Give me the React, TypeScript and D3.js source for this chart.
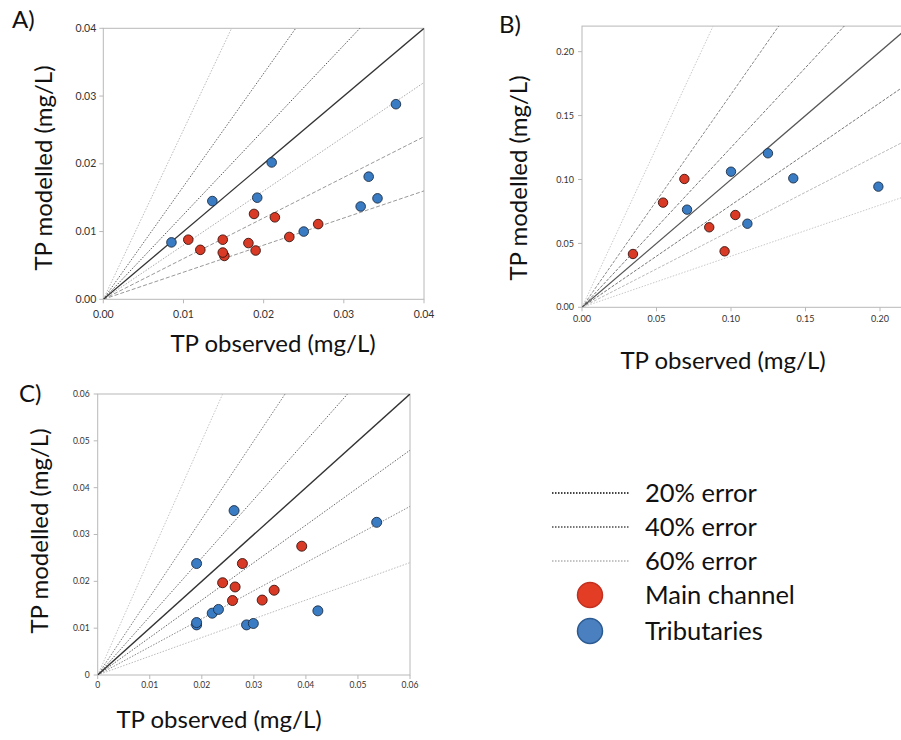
import React from "react";
import * as d3 from "d3";

// ---------- DATA ----------
// [TP observed, TP modelled] in mg/L
const aMainChannel: [number, number][] = [
  [0.0106, 0.0088], [0.0121, 0.0073], [0.0149, 0.0088], [0.0151, 0.0064],
  [0.0149, 0.0069], [0.0181, 0.0083], [0.019, 0.0072], [0.0188, 0.0126],
  [0.0214, 0.0121], [0.0232, 0.0092], [0.0268, 0.0111],
];
const aTributaries: [number, number][] = [
  [0.0085, 0.0084], [0.0136, 0.0145], [0.021, 0.0202], [0.0192, 0.015],
  [0.025, 0.01], [0.0365, 0.0288], [0.0331, 0.0181], [0.0321, 0.0137],
  [0.0342, 0.0149],
];
const bMainChannel: [number, number][] = [
  [0.0342, 0.0417], [0.0544, 0.0819], [0.0687, 0.1004], [0.0854, 0.0626],
  [0.0957, 0.0438], [0.1029, 0.0722],
];
const bTributaries: [number, number][] = [
  [0.0705, 0.0764], [0.1, 0.1061], [0.111, 0.0654], [0.1248, 0.1205],
  [0.1418, 0.1009], [0.1989, 0.0944],
];
const cMainChannel: [number, number][] = [
  [0.024, 0.0197], [0.0278, 0.0238], [0.0264, 0.0188], [0.0259, 0.0159],
  [0.0316, 0.016], [0.0339, 0.0181], [0.0392, 0.0275],
];
const cTributaries: [number, number][] = [
  [0.019, 0.0107], [0.0262, 0.0351], [0.019, 0.0238], [0.0536, 0.0326],
  [0.019, 0.0112], [0.022, 0.0132], [0.0232, 0.014], [0.0286, 0.0107],
  [0.0299, 0.011], [0.0423, 0.0137],
];

const aTicks = [0, 0.01, 0.02, 0.03, 0.04];
const bTicks = [0, 0.05, 0.1, 0.15, 0.2];
const cTicks = [0, 0.01, 0.02, 0.03, 0.04, 0.05, 0.06];

// error envelopes: slope of modelled = observed * factor
const errorLevels = ["20% error", "40% error", "60% error"];
const upperFactors = [1 / 0.8, 1 / 0.6, 1 / 0.4];
const lowerFactors = [0.8, 0.6, 0.4];
const legendSeries = ["Main channel", "Tributaries"];

const axisTitleX = "TP observed (mg/L)";
const axisTitleY = "TP modelled (mg/L)";

const FONT = "Lato, 'Open Sans', sans-serif";
const RED = "#d83a26";
const BLUE = "#3a7cc4";

type LineStyle = { color: string; dash: string; width: number };

type PanelProps = {
  label: string;
  labelX: number;
  labelY: number;
  x0: number; x1: number; y0: number; y1: number;
  max: number;
  ticks: number[];
  fmt: (v: number) => string;
  tickFont: number;
  tickGap: number;
  xTickY: number;
  main: [number, number][];
  trib: [number, number][];
  r: number;
  upperStyles: LineStyle[];
  lowerStyles: LineStyle[];
  oneToOne: LineStyle;
  yTitleX: number; yTitleY: number;
  xTitleX: number; xTitleY: number;
  id: string;
};

function Panel(p: PanelProps) {
  const x = d3.scaleLinear().domain([0, p.max]).range([p.x0, p.x1]);
  const y = d3.scaleLinear().domain([0, p.max]).range([p.y1, p.y0]);
  const line = d3.line<[number, number]>().x((d) => x(d[0])).y((d) => y(d[1]));
  const big = p.max * 4;
  const seg = (f: number): [number, number][] => [[0, 0], [big, big * f]];
  return (
    <g>
      <defs>
        <clipPath id={p.id}>
          <rect x={p.x0} y={p.y0} width={p.x1 - p.x0} height={p.y1 - p.y0} />
        </clipPath>
      </defs>
      <text x={p.labelX} y={p.labelY} fontFamily={FONT} fontSize={24} fill="#111">{p.label}</text>
      <rect x={p.x0} y={p.y0} width={p.x1 - p.x0} height={p.y1 - p.y0} fill="#fff" stroke="#b8b8b8" strokeWidth={1} />
      <g clipPath={`url(#${p.id})`}>
        {upperFactors.map((f, i) => (
          <path key={"u" + i} d={line(seg(f)) || ""} fill="none" stroke={p.upperStyles[i].color}
            strokeDasharray={p.upperStyles[i].dash} strokeWidth={p.upperStyles[i].width} />
        ))}
        {lowerFactors.map((f, i) => (
          <path key={"l" + i} d={line(seg(f)) || ""} fill="none" stroke={p.lowerStyles[i].color}
            strokeDasharray={p.lowerStyles[i].dash} strokeWidth={p.lowerStyles[i].width} />
        ))}
        <path d={line(seg(1)) || ""} fill="none" stroke={p.oneToOne.color} strokeWidth={p.oneToOne.width} />
      </g>
      {p.ticks.map((t) => (
        <g key={"xt" + t}>
          <line x1={x(t)} x2={x(t)} y1={p.y1} y2={p.y1 + 4} stroke="#b8b8b8" />
          <text x={x(t)} y={p.xTickY} textAnchor="middle" fontFamily={FONT} fontSize={p.tickFont} fill="#333">{p.fmt(t)}</text>
        </g>
      ))}
      {p.ticks.map((t) => (
        <g key={"yt" + t}>
          <line x1={p.x0 - 4} x2={p.x0} y1={y(t)} y2={y(t)} stroke="#b8b8b8" />
          <text x={p.x0 - p.tickGap} y={y(t)} dy="0.35em" textAnchor="end" fontFamily={FONT} fontSize={p.tickFont} fill="#333">{p.fmt(t)}</text>
        </g>
      ))}
      {p.trib.map((d, i) => (
        <circle key={"b" + i} cx={x(d[0])} cy={y(d[1])} r={p.r} fill={BLUE} stroke="#1e2f44" strokeWidth={0.9} />
      ))}
      {p.main.map((d, i) => (
        <circle key={"r" + i} cx={x(d[0])} cy={y(d[1])} r={p.r} fill={RED} stroke="#3a1410" strokeWidth={0.9} />
      ))}
      <text x={p.xTitleX} y={p.xTitleY} textAnchor="middle" fontFamily={FONT} fontSize={24} fill="#111">{axisTitleX}</text>
      <text transform={`translate(${p.yTitleX},${p.yTitleY}) rotate(-90)`} textAnchor="middle" fontFamily={FONT} fontSize={24} fill="#111">{axisTitleY}</text>
    </g>
  );
}

const f2 = d3.format(".2f");
const fC = (v: number) => (v === 0 ? "0" : d3.format(".2f")(v));

export default function App() {
  const legendX1 = 552;
  const legendX2 = 630;
  const legendTextX = 645;
  const legendYs = [493, 527, 561];
  const dotYs = [595, 631];
  const legendStyles: LineStyle[] = [
    { color: "#444", dash: "1.5,1.5", width: 2 },
    { color: "#777", dash: "1.5,1.5", width: 2 },
    { color: "#c4c4c4", dash: "1.5,1.5", width: 2 },
  ];
  return (
    <svg width={901} height={740} style={{ position: "absolute", left: 0, top: 0, background: "#fff" }}>
      <rect x={0} y={0} width={901} height={740} fill="#fff" />
      <Panel
        id="clipA" label="A)" labelX={12} labelY={28}
        x0={103.3} x1={424} y0={28.3} y1={299.3} max={0.04}
        ticks={aTicks} fmt={f2} tickFont={10.5} tickGap={7} xTickY={318}
        main={aMainChannel} trib={aTributaries} r={4.8}
        upperStyles={[
          { color: "#555", dash: "1.5,1.5", width: 1 },
          { color: "#666", dash: "1.5,1.5", width: 1 },
          { color: "#bbb", dash: "1.5,1.5", width: 1 },
        ]}
        lowerStyles={[
          { color: "#aaa", dash: "1.5,1.5", width: 1 },
          { color: "#999", dash: "4,2", width: 1 },
          { color: "#999", dash: "4,2", width: 1 },
        ]}
        oneToOne={{ color: "#333", dash: "", width: 1.3 }}
        yTitleX={52} yTitleY={168} xTitleX={273} xTitleY={352}
      />
      <Panel
        id="clipB" label="B)" labelX={499} labelY={33}
        x0={582} x1={909.8} y0={26.1} y1={307.3} max={0.22}
        ticks={bTicks} fmt={f2} tickFont={9} tickGap={8} xTickY={322}
        main={bMainChannel} trib={bTributaries} r={4.7}
        upperStyles={[
          { color: "#777", dash: "3,1.5", width: 1 },
          { color: "#888", dash: "3,1.5", width: 1 },
          { color: "#c8c8c8", dash: "1.5,1.5", width: 1 },
        ]}
        lowerStyles={[
          { color: "#777", dash: "3,1.5", width: 1 },
          { color: "#bbb", dash: "3,1.5", width: 1 },
          { color: "#c8c8c8", dash: "1.5,1.5", width: 1 },
        ]}
        oneToOne={{ color: "#555", dash: "", width: 1.2 }}
        yTitleX={527} yTitleY={178} xTitleX={723} xTitleY={369}
      />
      <Panel
        id="clipC" label="C)" labelX={19} labelY={402}
        x0={97.7} x1={410} y0={394} y1={675} max={0.06}
        ticks={cTicks} fmt={fC} tickFont={8.5} tickGap={8} xTickY={688}
        main={cMainChannel} trib={cTributaries} r={5}
        upperStyles={[
          { color: "#666", dash: "1.5,1.5", width: 1 },
          { color: "#777", dash: "1.5,1.5", width: 1 },
          { color: "#c4c4c4", dash: "1.5,1.5", width: 1 },
        ]}
        lowerStyles={[
          { color: "#666", dash: "1.5,1.5", width: 1 },
          { color: "#888", dash: "1.5,1.5", width: 1 },
          { color: "#bbb", dash: "1.5,1.5", width: 1 },
        ]}
        oneToOne={{ color: "#333", dash: "", width: 1.4 }}
        yTitleX={48} yTitleY={531} xTitleX={219} xTitleY={728}
      />
      {/* legend */}
      {errorLevels.map((lab, i) => (
        <g key={lab}>
          <line x1={legendX1} x2={legendX2} y1={legendYs[i]} y2={legendYs[i]} stroke={legendStyles[i].color}
            strokeDasharray={legendStyles[i].dash} strokeWidth={legendStyles[i].width} />
          <text x={legendTextX} y={legendYs[i]} dy="0.35em" fontFamily={FONT} fontSize={25.5} fill="#111">{lab}</text>
        </g>
      ))}
      {legendSeries.map((lab, i) => (
        <g key={lab}>
          <circle cx={590} cy={dotYs[i]} r={12.5} fill={i === 0 ? "#e43d26" : "#4a7fc0"}
            stroke={i === 0 ? "#c23020" : "#2c5b92"} strokeWidth={1.5} />
          <text x={legendTextX} y={dotYs[i]} dy="0.35em" fontFamily={FONT} fontSize={25.5} fill="#111">{lab}</text>
        </g>
      ))}
    </svg>
  );
}
